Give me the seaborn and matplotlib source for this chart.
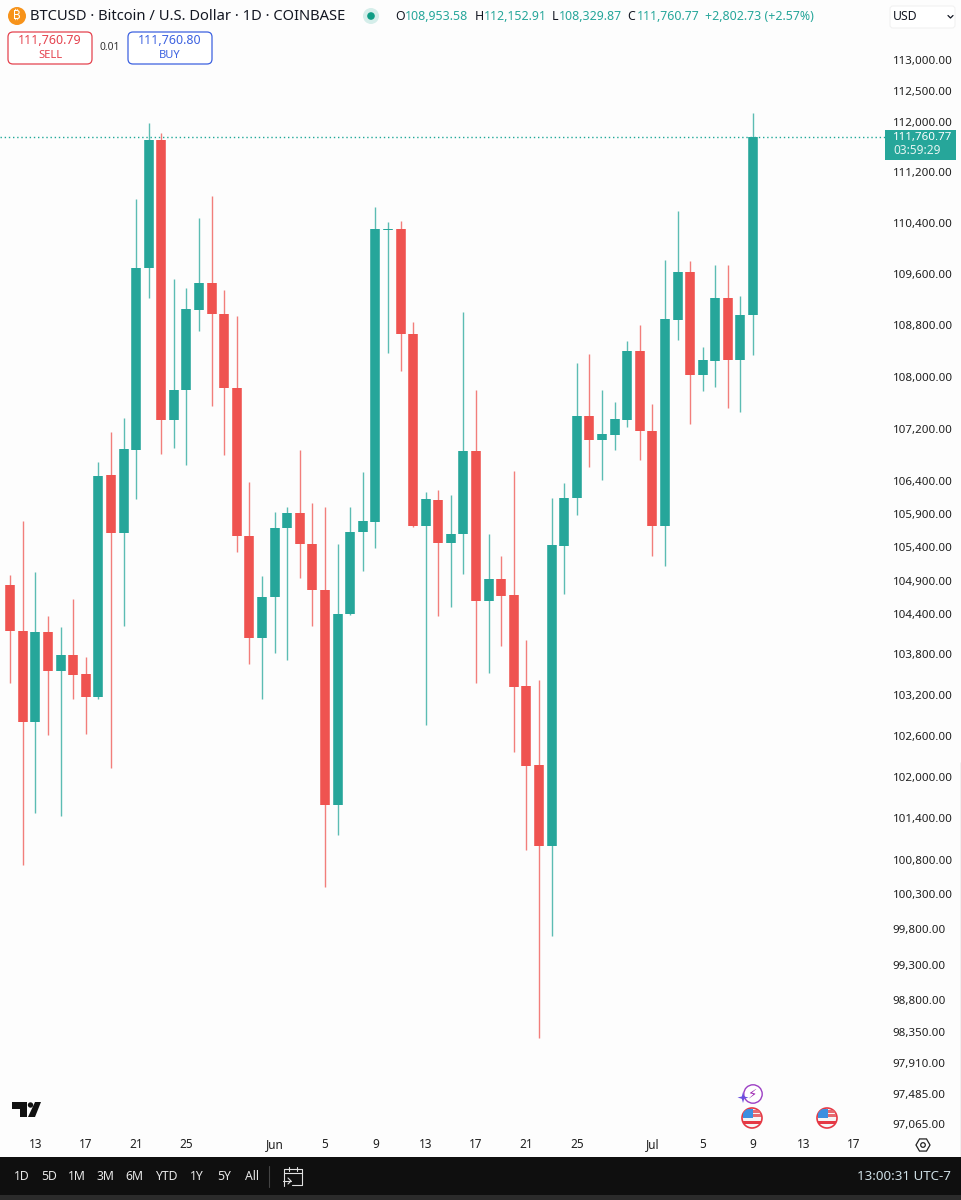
import numpy as np
import pandas as pd
import matplotlib
matplotlib.use("Agg")
import matplotlib.pyplot as plt
from matplotlib.patches import Circle, FancyBboxPatch, Polygon, Rectangle
import seaborn as sns

UP = "#26a69a"
DOWN = "#ef5350"
BG = "#fdfdfd"
BAR = "#0f0f0f"

# daily candles, 10 May 2025 onwards
opens = [102993, 104836, 104150, 102803, 104135, 103556, 103793, 103511, 103169, 106497,
         105618, 106879, 109694, 111718, 107337, 107797, 109036, 109458, 108974, 107828,
         105573, 104046, 104655, 105694, 105919, 105453, 104761, 101590, 104402, 105633,
         105784, 110285, 110306, 108664, 105724, 106115, 105468, 105603, 106863, 104595,
         104926, 104685, 103333, 102174, 100999, 105423, 106145, 107398, 107031, 107108,
         107337, 108401, 107169, 105724, 108881, 109625, 108029, 108246, 109222, 108262,
         108953.58]
highs = [104986, 104986, 105799, 105031, 104372, 104209, 104625, 103764, 106695, 107153,
         107367, 110778, 111989, 111830, 109521, 109380, 110479, 110826, 109348, 108943,
         106390, 104971, 105934, 106010, 106879, 106070, 106010, 105453, 106010, 106542,
         110652, 110416, 110432, 108850, 106237, 106268, 106191, 109005, 107797, 105603,
         105272, 106558, 104016, 103422, 106145, 106374, 108215, 108354, 107797, 107611,
         108556, 108804, 107581, 109819, 110589, 109803, 108463, 109741, 109741, 109254,
         112152.91]
lows = [102993, 103377, 100725, 101475, 102613, 101431, 103140, 102628, 103140, 102130,
        104224, 106130, 109222, 106817, 106909, 106649, 108711, 107550, 106802, 105332,
        103660, 103140, 103823, 103719, 104941, 104224, 100408, 101158, 104387, 105046,
        105392, 108370, 108091, 105710, 102759, 104372, 104506, 105001, 103377, 103526,
        103927, 102364, 100941, 98267, 99709, 104700, 105889, 106619, 106420, 106879,
        107230, 106726, 105272, 105122, 108572, 107275, 107781, 107844, 107520, 107459,
        108329.87]
closes = [104836, 104150, 102803, 104135, 103556, 103793, 103496, 103169, 106481, 105618,
          106894, 109694, 111718, 107337, 107797, 109052, 109458, 108974, 107828, 105573,
          104046, 104655, 105694, 105919, 105453, 104761, 101590, 104402, 105633, 105799,
          110306, 110310, 108664, 105724, 106130, 105468, 105603, 106863, 104595, 104926,
          104670, 103318, 102159, 100999, 105438, 106145, 107398, 107031, 107123, 107352,
          108401, 107169, 105724, 108897, 109625, 108029, 108262, 109222, 108262, 108958,
          111760.77]

price_ticks = [113000, 112500, 112000, 111200, 110400, 109600, 108800, 108000, 107200,
               106400, 105900, 105400, 104900, 104400, 103800, 103200, 102600, 102000,
               101400, 100800, 100300, 99800, 99300, 98800, 98350, 97910, 97485, 97065]
date_ticks = ["2025-05-13", "2025-05-17", "2025-05-21", "2025-05-25", "2025-06-01",
              "2025-06-05", "2025-06-09", "2025-06-13", "2025-06-17", "2025-06-21",
              "2025-06-25", "2025-07-01", "2025-07-05", "2025-07-09", "2025-07-13",
              "2025-07-17"]
date_labels = ["13", "17", "21", "25", "Jun", "5", "9", "13", "17", "21", "25", "Jul",
               "5", "9", "13", "17"]
ranges = ["1D", "5D", "1M", "3M", "6M", "YTD", "1Y", "5Y", "All"]
range_x = [22, 49, 77, 105, 134, 166, 197, 224, 252]

days = pd.date_range("2025-05-10", periods=len(opens))
df = pd.DataFrame({"day": days, "open": opens, "high": highs, "low": lows, "close": closes})
df["side"] = np.where(df["close"] >= df["open"], "up", "down")
df["candle"] = np.arange(len(df))

wicks = df.melt(id_vars=["day", "side", "candle"], value_vars=["high", "low"], value_name="price")
bodies = df.melt(id_vars=["day", "side", "candle"], value_vars=["open", "close"], value_name="price")
palette = {"up": UP, "down": DOWN}

sns.set_theme(style="white")
plt.rcParams["font.family"] = ["Noto Sans", "Inter", "Roboto", "Open Sans", "Lato", "DejaVu Sans"]

fig = plt.figure(figsize=(9.61, 12.0), dpi=100, facecolor=BG)
ax = fig.add_axes([0, 1 - 1132 / 1200, 885 / 961, 1132 / 1200], facecolor=BG)

# ─────────────────────────────────────────
# CANDLES
# ─────────────────────────────────────────
sns.lineplot(data=wicks, x="day", y="price", hue="side", units="candle", estimator=None,
             palette=palette, linewidth=1.0, alpha=0.75, legend=False, ax=ax,
             solid_capstyle="butt")
sns.lineplot(data=bodies, x="day", y="price", hue="side", units="candle", estimator=None,
             palette=palette, linewidth=6.9, legend=False, ax=ax,
             solid_capstyle="butt")

ax.set_yscale("log")
ax.set_ylim(96953, 113972)
ax.set_xlim(pd.Timestamp("2025-05-10 04:30"), pd.Timestamp("2025-07-19 11:30"))
ax.axhline(closes[-1], color="#1fa898", linewidth=1.0, linestyle=(0, (1, 2)), zorder=1)

ax.minorticks_off()
ax.yaxis.tick_right()
ax.set_yticks(price_ticks)
ax.set_yticklabels([f"{p:,.2f}" for p in price_ticks], fontsize=8.3, color="#1f1f1f")
ax.set_xticks(pd.to_datetime(date_ticks))
ax.set_xticklabels(date_labels, fontsize=8.5, color="#1f1f1f")
for lab in ax.get_xticklabels():
    if lab.get_text() in ("Jun", "Jul"):
        lab.set_fontweight("bold")
ax.tick_params(axis="y", length=0, pad=5.5)
ax.tick_params(axis="x", length=0, pad=4.5)
ax.set_xlabel("")
ax.set_ylabel("")
for s in ax.spines.values():
    s.set_visible(False)

# ─────────────────────────────────────────
# TRADINGVIEW CHROME (pixel coordinates)
# ─────────────────────────────────────────
ov = fig.add_axes([0, 0, 1, 1], facecolor="none")
ov.set_xlim(0, 961)
ov.set_ylim(1200, 0)
ov.axis("off")

# bottom bar
ov.add_patch(Rectangle((0, 1157), 961, 38, color=BAR, lw=0))
ov.add_patch(Rectangle((0, 1195), 961, 5, color="#2b2b2b", lw=0))
ov.plot([269, 269], [1166, 1187], color="#444444", lw=0.8)
for lab, x in zip(ranges, range_x):
    ov.text(x, 1177, lab, color="#e8e8e8", fontsize=8.8, ha="center", va="center")
ov.text(951, 1177, "13:00:31 UTC-7", color="#cfe0e6", fontsize=9.6, ha="right", va="center")
# calendar icon
ov.plot([284, 284, 302, 302, 292], [1186, 1169, 1169, 1185, 1185], color="#e0e0e0", lw=0.8)
ov.plot([284, 302], [1173, 1173], color="#e0e0e0", lw=0.8)
ov.plot([289, 289], [1167, 1171], color="#e0e0e0", lw=0.8)
ov.plot([297, 297], [1167, 1171], color="#e0e0e0", lw=0.8)
ov.plot([283, 291], [1181, 1181], color="#e0e0e0", lw=0.8)
ov.plot([288, 291, 288], [1178, 1181, 1184], color="#e0e0e0", lw=0.8)

# header
ov.add_patch(Circle((17, 16), 9, color="#f7931a", lw=0))
ov.text(17, 16, "₿", color="white", fontsize=8.5, ha="center", va="center",
        family=["Inter", "Roboto", "Noto Sans", "Open Sans", "DejaVu Sans"])
ov.text(30, 16, "BTCUSD · Bitcoin / U.S. Dollar · 1D · COINBASE", color="#131722",
        fontsize=10.6, ha="left", va="center")
ov.add_patch(Circle((371, 16), 8, color="#d5eeea", lw=0))
ov.add_patch(Circle((371, 16), 3.8, color="#0f9d85", lw=0))

ohlc = [(395, "O", "#131722"), (405, "108,953.58", UP), (475, "H", "#131722"),
        (484, "112,152.91", UP), (552, "L", "#131722"), (559, "108,329.87", UP),
        (627, "C", "#131722"), (637, "111,760.77", UP), (705, "+2,802.73 (+2.57%)", UP)]
for x, lab, col in ohlc:
    ov.text(x, 16, lab, color=col, fontsize=8.9, ha="left", va="center")

# sell / buy
for x0, x1, col, price, side in [(8, 92, "#e5434f", "111,760.79", "SELL"),
                                 (128, 212, "#3d62e0", "111,760.80", "BUY")]:
    ov.add_patch(FancyBboxPatch((x0, 32), x1 - x0, 32, boxstyle="round,pad=0,rounding_size=5",
                                fc="white", ec=col, lw=0.9))
    ov.text((x0 + x1) / 2, 41, price, color=col, fontsize=9, ha="center", va="center")
    ov.text((x0 + x1) / 2, 55, side, color=col, fontsize=8, ha="center", va="center")
ov.text(109.5, 48, "0.01", color="#333333", fontsize=7.4, ha="center", va="center")

# currency box
ov.add_patch(FancyBboxPatch((890, 6), 65, 22, boxstyle="round,pad=0,rounding_size=3",
                            fc="white", ec="#f2f2f2", lw=0.8))
ov.text(893, 17, "USD", color="#131722", fontsize=8.8, ha="left", va="center")
ov.plot([948, 950.5, 953], [15.5, 18, 15.5], color="#131722", lw=0.9)

# last price tag
ov.add_patch(Rectangle((885, 130), 71, 30, color=UP, lw=0))
ov.text(893, 137.5, "111,760.77", color="white", fontsize=8.3, fontweight="semibold",
        ha="left", va="center")
ov.text(893, 151, "03:59:29", color="#e3f4f1", fontsize=8.5, ha="left", va="center")
ov.plot([960.5, 960.5], [762, 1157], color="#222222", lw=0.8)

# logo
ov.add_patch(Polygon([(12, 1102), (26.5, 1102), (26.5, 1117), (19.5, 1117), (19.5, 1109), (12, 1109)],
                     color="#111111", lw=0))
ov.add_patch(Circle((30.5, 1105), 2.7, color="#111111", lw=0))
ov.add_patch(Polygon([(35, 1102), (41, 1102), (35, 1117), (28, 1117)], color="#111111", lw=0))

# event markers
ov.add_patch(Circle((753, 1094), 9.2, fc="white", ec="#9c3fc4", lw=1.0))
ov.text(753, 1094, "⚡", color="#9c27b0", fontsize=9.5, ha="center", va="center",
        family="DejaVu Sans")
ov.add_patch(Polygon([(743, 1092), (744.2, 1096.5), (748.5, 1097.5), (744.2, 1098.8), (743, 1103),
                      (741.8, 1098.8), (737.5, 1097.5), (741.8, 1096.5)], color="#6a4fe0", lw=0))
for cx in (752, 827):
    disc = Circle((cx, 1118), 10, fc="#f6f6f6", ec="#e53945", lw=1.2)
    ov.add_patch(disc)
    for rx, ry, rw, rh, rc in [(cx - 9, 1110, 18, 2.5, "#e76a70"), (cx - 9, 1114, 18, 2.5, "#e76a70"),
                               (cx - 9, 1109, 10, 9, "#3d8fe0"), (cx - 9, 1121, 18, 2.5, "#e53945")]:
        r = Rectangle((rx, ry), rw, rh, color=rc, lw=0)
        ov.add_patch(r)
        r.set_clip_path(disc)

# settings
hex_a = np.deg2rad(np.arange(0, 360, 60))
ov.add_patch(Polygon(np.c_[923 + 7 * np.cos(hex_a), 1145 + 7 * np.sin(hex_a)], fc="none",
                     ec="#222222", lw=0.9))
ov.add_patch(Circle((923, 1145), 2.3, fc="none", ec="#222222", lw=0.9))

fig.savefig("out.png", dpi=100, facecolor=BG)
